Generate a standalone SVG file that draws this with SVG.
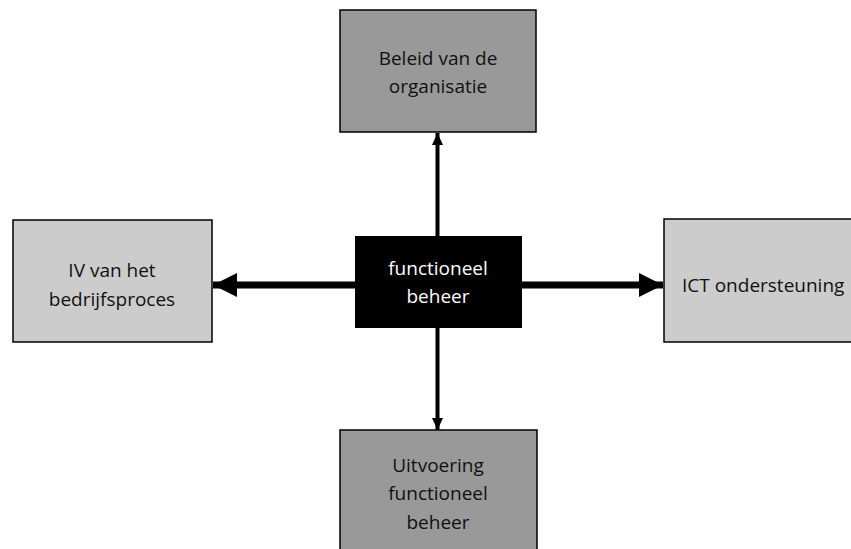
<svg xmlns="http://www.w3.org/2000/svg" width="851" height="549" viewBox="0 0 851 549">
  <style>
    .box { stroke: #000; stroke-width: 1.5; }
    .dark { fill: #999999; }
    .light { fill: #cccccc; }
    .core { fill: #000; }
    text { font-family: "Open Sans", "DejaVu Sans", sans-serif; font-size: 19px; fill: #111; text-anchor: middle; }
    .core-text { fill: #fff; }
    .thin { stroke: #000; stroke-width: 4; fill: none; }
    .thick { stroke: #000; stroke-width: 7; fill: none; }
  </style>
  <defs>
    <marker id="headThin" viewBox="0 0 12 11" refX="12" refY="5.5" markerWidth="12" markerHeight="11" orient="auto" markerUnits="userSpaceOnUse">
      <path d="M0,0 L12,5.5 L0,11 Z" fill="#000"/>
    </marker>
    <marker id="headThick" viewBox="0 0 24 24" refX="24" refY="12" markerWidth="24" markerHeight="24" orient="auto" markerUnits="userSpaceOnUse">
      <path d="M0,0 L24,12 L0,24 Z" fill="#000"/>
    </marker>
  </defs>

  <g id="connectors">
    <line class="thin" x1="437.5" y1="236" x2="437.5" y2="133" marker-end="url(#headThin)"/>
    <line class="thin" x1="437.5" y1="328" x2="437.5" y2="430" marker-end="url(#headThin)"/>
    <line class="thick" x1="355" y1="285" x2="213" y2="285" marker-end="url(#headThick)"/>
    <line class="thick" x1="522" y1="285" x2="663" y2="285" marker-end="url(#headThick)"/>
  </g>

  <g id="beleid">
    <rect class="box dark" x="340" y="10" width="196" height="122"/>
    <text x="438" y="65">Beleid van de</text>
    <text x="438" y="93">organisatie</text>
  </g>

  <g id="iv">
    <rect class="box light" x="13" y="220" width="199" height="122"/>
    <text x="112" y="277">IV van het</text>
    <text x="112" y="306">bedrijfsproces</text>
  </g>

  <g id="functioneel-beheer">
    <rect class="core" x="355" y="236" width="167" height="92"/>
    <text class="core-text" x="438" y="275">functioneel</text>
    <text class="core-text" x="438" y="303">beheer</text>
  </g>

  <g id="ict">
    <rect class="box light" x="664" y="219" width="200" height="123"/>
    <text x="682" y="292" style="text-anchor:start">ICT ondersteuning</text>
  </g>

  <g id="uitvoering">
    <rect class="box dark" x="340" y="430" width="197" height="130"/>
    <text x="438" y="472">Uitvoering</text>
    <text x="438" y="500">functioneel</text>
    <text x="438" y="529">beheer</text>
  </g>
</svg>
